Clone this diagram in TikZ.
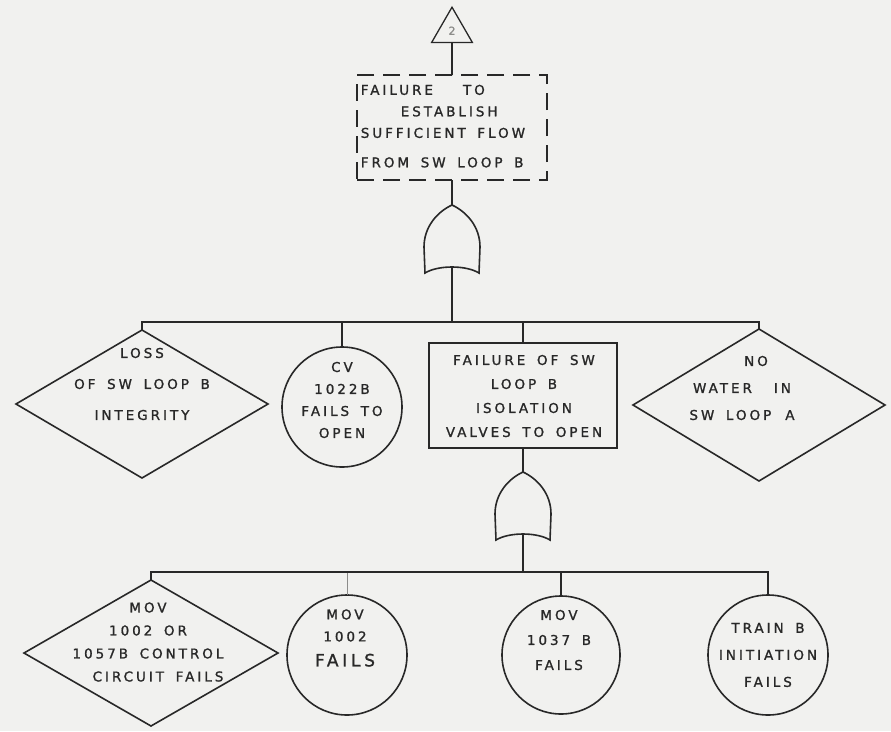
\documentclass[tikz,border=0pt]{standalone}
\usepackage{fontspec}
\usetikzlibrary{shapes.geometric}
\newfontfamily\hand[LetterSpace=22,WordSpace=1.6,FakeBold=1.2]{DejaVu Sans}
\definecolor{paper}{RGB}{241,241,239}
\definecolor{ink}{RGB}{40,40,40}
\definecolor{faint}{RGB}{140,140,138}

\tikzset{
  orgate/.pic={
    \coordinate (-in) at (0,0);
    \coordinate (-out) at (0,62);
    \draw (0,0) .. controls (-15,7) and (-28,22) .. (-28,42) -- (-27,68)
          .. controls (-14,60) and (14,60) .. (27,68) -- (28,42)
          .. controls (28,22) and (15,7) .. (0,0) -- cycle;
  }
}

\begin{document}
\begin{tikzpicture}[x=1pt,y=-1pt,color=ink,line width=1.6pt,
  shapebox/.style={draw, inner sep=0pt, outer sep=0pt},
  eventbox/.style={shapebox, rectangle, minimum width=#1, minimum height=105pt},
  basic/.style={shapebox, circle, minimum size=#1},
  undev/.style={shapebox, diamond, minimum width=252pt, minimum height=#1},
  lbl/.style={font=\hand\fontsize{13.5}{#1}\selectfont, align=center, inner sep=0pt, text=ink},
  bus/.style={line width=1.4pt},
]
\fill[paper] (0,0) rectangle (891,731);
\useasboundingbox (0,0) rectangle (891,731);

% transfer triangle and top event
\node[shapebox, regular polygon, regular polygon sides=3, minimum size=47pt,
      line width=1.3pt, font=\hand\fontsize{11}{11}\selectfont, text=faint] (tri) at (452,30.7) {2};
\node[eventbox=190pt, dash pattern=on 17pt off 9pt] (top) at (452,127.5) {};
\node[lbl=21.5, anchor=north west, align=left] (topt) at (360,84)
  {FAILURE\hspace{30pt}TO\\\hspace*{40pt}ESTABLISH\\SUFFICIENT FLOW\\[8pt]FROM SW LOOP B};

% first OR gate and its inputs
\pic (g1) at (452,205) {orgate};
\coordinate (b1) at (452,322);

\node[undev=148pt] (d1) at (142,404) {};
\node[lbl=31] (d1t) at (142,384) {LOSS\\OF SW LOOP B\\INTEGRITY};

\node[basic=120pt] (c1) at (342,407) {};
\node[lbl=22] (c1t) at (342,400) {CV\\1022B\\FAILS TO\\OPEN};

\node[eventbox=188pt] (m1) at (523,395.5) {};
\node[lbl=24] (m1t) at (524,396) {FAILURE OF SW\\LOOP B\\ISOLATION\\VALVES TO OPEN};

\node[undev=152pt] (d2) at (759,405) {};
\node[lbl=27] (d2t) at (742,388) {\hspace*{28pt}NO\\WATER\hspace{22pt}IN\\SW LOOP\hspace{14pt}A};

% second OR gate and its inputs
\pic (g2) at (523,472) {orgate};
\coordinate (b2) at (523,572);

\node[undev=146pt, minimum width=254pt] (d3) at (151,653) {};
\node[lbl=23] (d3t) at (148,642) {MOV\\1002 OR\\1057B CONTROL\\\hspace*{20pt}CIRCUIT FAILS};

\node[basic=120pt] (c2) at (347,655) {};
\node[lbl=22] (c2t) at (345,638) {MOV\\1002\\[3pt]{\fontsize{17}{17}\selectfont FAILS}};

\node[basic=118pt] (c3) at (561,655) {};
\node[lbl=25] (c3t) at (559,640) {MOV\\1037 B\\FAILS};

\node[basic=120pt] (c4) at (768,655) {};
\node[lbl=27] (c4t) at (768,655) {TRAIN B\\INITIATION\\FAILS};

% connectors
\draw (tri.south) -- (top.north);
\draw (top.south) -- (g1-in);
\draw (g1-out) -- (b1);
\draw[bus] (b1) -| (d1.north);
\draw[bus] (b1) -| (c1.north);
\draw[bus] (b1) -| (m1.north);
\draw[bus] (b1) -| (d2.north);

\draw (m1.south) -- (g2-in);
\draw (g2-out) -- (b2);
\draw[faint, line width=1pt] (b2 -| c2.north) -- (c2.north);
\draw[bus] (b2) -| (d3.north);
\draw[bus] (b2) -| (c3.north);
\draw[bus] (b2) -| (c4.north);
\end{tikzpicture}
\end{document}
